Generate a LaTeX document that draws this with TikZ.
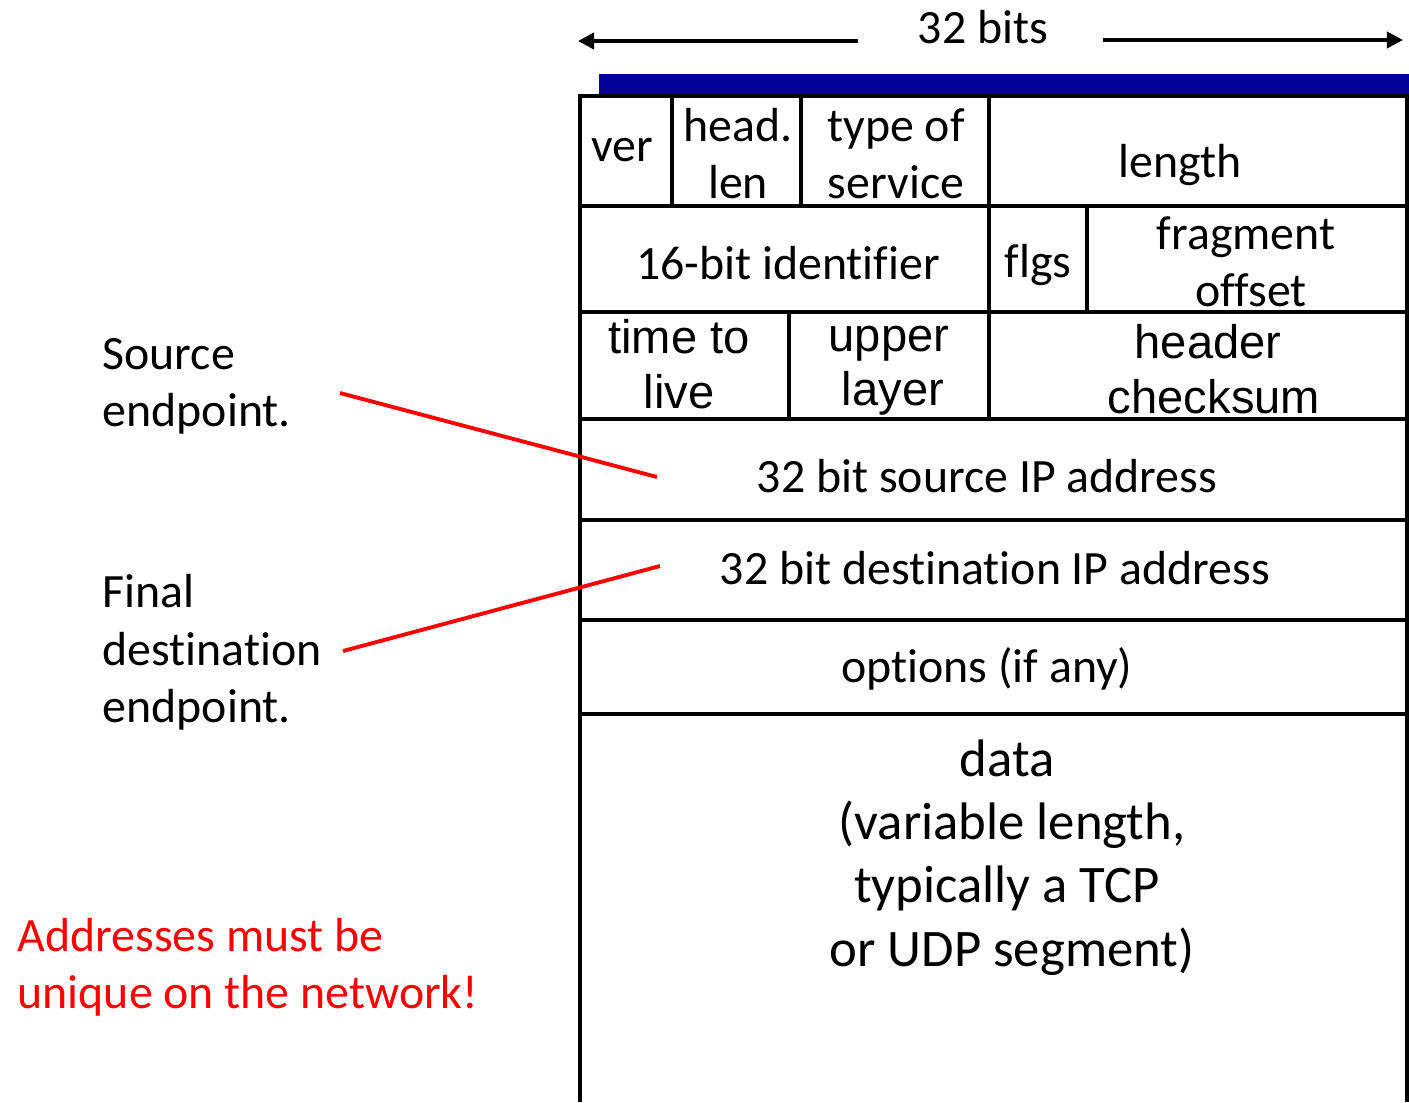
\documentclass[tikz,border=0pt]{standalone}
\usepackage{fontspec}
\setmainfont[Ligatures=NoCommon]{Carlito}
\newfontfamily\arialfont{Liberation Sans}
\usetikzlibrary{arrows.meta}
\definecolor{barblue}{RGB}{0,0,153}
\definecolor{notered}{RGB}{255,0,0}
\begin{document}
\begin{tikzpicture}[x=0.01cm,y=-0.01cm,
  field/.style={inner sep=0pt, anchor=base, font=\fontsize{13.6}{16}\selectfont},
  arialfield/.style={inner sep=0pt, anchor=base, font=\arialfont\fontsize{13.4}{16}\selectfont},
  bigfield/.style={inner sep=0pt, anchor=base, font=\fontsize{15}{18}\selectfont},
  side/.style={inner sep=0pt, anchor=base west, font=\fontsize{13.6}{16}\selectfont},
  note/.style={side, text=notered},
  grid/.style={line width=1.1pt, black},
  pointer/.style={line width=1.1pt, notered},
  span/.style={line width=1.1pt, -{Triangle[length=4.6pt,width=4.6pt]}}]
\useasboundingbox (0,0) rectangle (1409,1102);

% width indicator
\node[field] (bits) at (983,43) {32 bits};
\coordinate (spanL) at (578,41);
\coordinate (spanR) at (1403,40);
\coordinate (spanLs) at (858,41);
\coordinate (spanRs) at (1103,40);
\draw[span] (spanLs) -- (spanL);
\draw[span] (spanRs) -- (spanR);

% header bar
\fill[barblue] (599,74) rectangle (1409,95);

% header table frame
\draw[grid] (580,1102) -- (580,96) -- (1407,96) -- (1407,1102);
\foreach \y in {206,312,419,520,620,714}
  \draw[grid] (580,\y) -- (1407,\y);
% row separators
\draw[grid] (672,96) -- (672,206);
\draw[grid] (801,96) -- (801,206);
\draw[grid] (989,96) -- (989,206);
\draw[grid] (989,206) -- (989,312);
\draw[grid] (1087,206) -- (1087,312);
\draw[grid] (789,312) -- (789,419);
\draw[grid] (989,312) -- (989,419);

% row 1
\node[field] (ver) at (622,161) {ver};
\node[field] (hlenA) at (738,141) {head.};
\node[field] (hlenB) at (738,198) {len};
\node[field] (tosA) at (896,141) {type of};
\node[field] (tosB) at (896,198) {service};
\node[field] (len) at (1180,177) {length};
% row 2
\node[field] (ident) at (788,279) {16-bit identifier};
\node[field] (flgs) at (1038,277) {flgs};
\node[field] (fragA) at (1246,249) {fragment};
\node[field] (fragB) at (1251,306) {offset};
% row 3
\node[arialfield] (ttlA) at (679,353) {time to};
\node[arialfield] (ttlB) at (679,408) {live};
\node[arialfield] (protoA) at (889,351) {upper};
\node[arialfield] (protoB) at (893,405) {layer};
\node[arialfield] (csumA) at (1208,358) {header};
\node[arialfield] (csumB) at (1214,413) {checksum};
% addresses and options
\node[field] (src) at (987,492) {32 bit source IP address};
\node[field] (dst) at (995,584) {32 bit destination IP address};
\node[field] (opts) at (987,682) {options (if any)};
% payload
\node[bigfield] (dataA) at (1007,776) {data};
\node[bigfield] (dataB) at (1012,839) {(variable length,};
\node[bigfield] (dataC) at (1007,902) {typically a TCP};
\node[bigfield] (dataD) at (1012,966) {or UDP segment)};

% side labels
\node[side] (srcA) at (102,369) {Source};
\node[side] (srcB) at (102,426) {endpoint.};
\node[side] (dstA) at (102,607) {Final};
\node[side] (dstB) at (102,665) {destination};
\node[side] (dstC) at (102,722) {endpoint.};
\node[note] (uniqA) at (17,951) {Addresses must be};
\node[note] (uniqB) at (17,1008) {unique on the network!};

% pointers into the address fields
\coordinate (srcFrom) at (340,393);
\coordinate (srcTo) at (657,477);
\coordinate (dstFrom) at (343,651);
\coordinate (dstTo) at (660,566);
\draw[pointer] (srcFrom) -- (srcTo);
\draw[pointer] (dstFrom) -- (dstTo);
\end{tikzpicture}
\end{document}
